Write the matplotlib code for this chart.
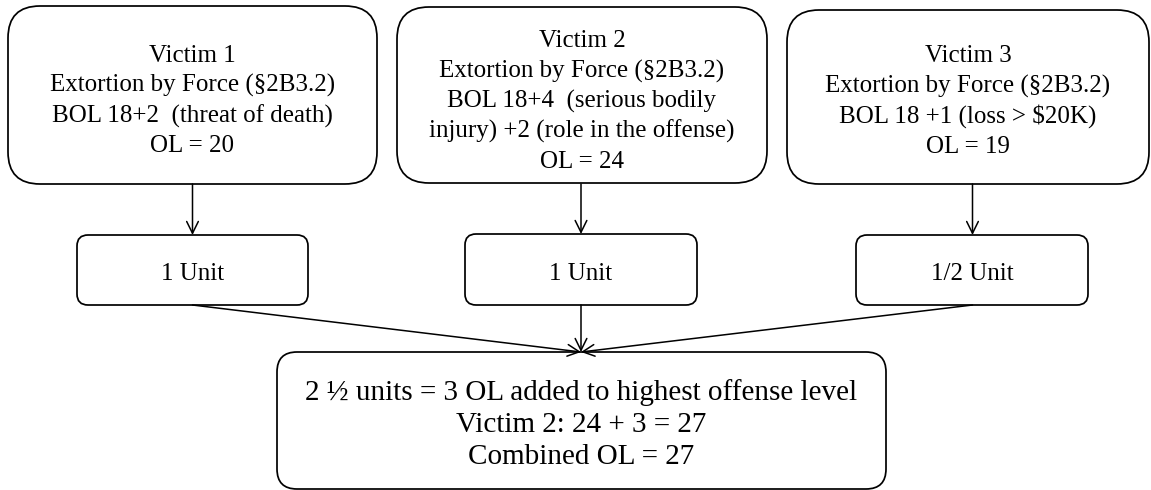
import matplotlib.pyplot as plt
from matplotlib.patches import FancyBboxPatch

# text content of the chart
victim_texts = [
    ["Victim 1", "Extortion by Force (\u00a72B3.2)", "BOL 18+2  (threat of death)", "OL = 20"],
    ["Victim 2", "Extortion by Force (\u00a72B3.2)", "BOL 18+4  (serious bodily",
     "injury) +2 (role in the offense)", "OL = 24"],
    ["Victim 3", "Extortion by Force (\u00a72B3.2)", "BOL 18 +1 (loss > $20K)", "OL = 19"],
]
unit_labels = ["1 Unit", "1 Unit", "1/2 Unit"]
summary_lines = ["2 \u00bd units = 3 OL added to highest offense level",
                 "Victim 2: 24 + 3 = 27",
                 "Combined OL = 27"]

FONT = "Liberation Serif"
W, H = 1151, 490

fig = plt.figure(figsize=(W / 100, H / 100), dpi=100)
ax = fig.add_axes([0, 0, 1, 1])
ax.set_xlim(0, W)
ax.set_ylim(H, 0)
ax.axis("off")


def box(x0, y0, x1, y1, r):
    p = FancyBboxPatch((x0, y0), x1 - x0, y1 - y0,
                       boxstyle="round,pad=0,rounding_size=%g" % r,
                       fc="white", ec="black", lw=1.25)
    ax.add_patch(p)


def arrow(start, end):
    ax.annotate("", xy=end, xytext=start,
                arrowprops=dict(arrowstyle="->,head_length=0.85,head_width=0.42",
                                mutation_scale=10, lw=1.1, color="black",
                                shrinkA=0, shrinkB=0))


# top boxes
top_boxes = [(8, 6, 377, 184), (397, 7, 767, 183), (787, 10, 1149, 184)]
top_first = [55.5, 41, 56]
for (x0, y0, x1, y1), lines, yf in zip(top_boxes, victim_texts, top_first):
    box(x0, y0, x1, y1, 32)
    cx = (x0 + x1) / 2
    for i, s in enumerate(lines):
        ax.text(cx, yf + i * 30.2, s, ha="center", va="center",
                fontsize=18, family=FONT)

# unit boxes
unit_boxes = [(77, 235, 308, 305), (465, 234, 697, 305), (856, 235, 1088, 305)]
arrow_x = [192.5, 581, 972.5]
for (x0, y0, x1, y1), lab, ax_x in zip(unit_boxes, unit_labels, arrow_x):
    box(x0, y0, x1, y1, 11)
    ax.text((x0 + x1) / 2, 274, lab, ha="center", va="center",
            fontsize=18, family=FONT)
    arrow((ax_x, 184), (ax_x, y0))
    arrow((ax_x, y1), (581, 352))

# summary box
box(277, 352, 886, 489, 20)
for i, s in enumerate(summary_lines):
    ax.text(581, 393 + i * 32, s, ha="center", va="center",
            fontsize=21, family=FONT)

fig.savefig("out.png", dpi=100)
